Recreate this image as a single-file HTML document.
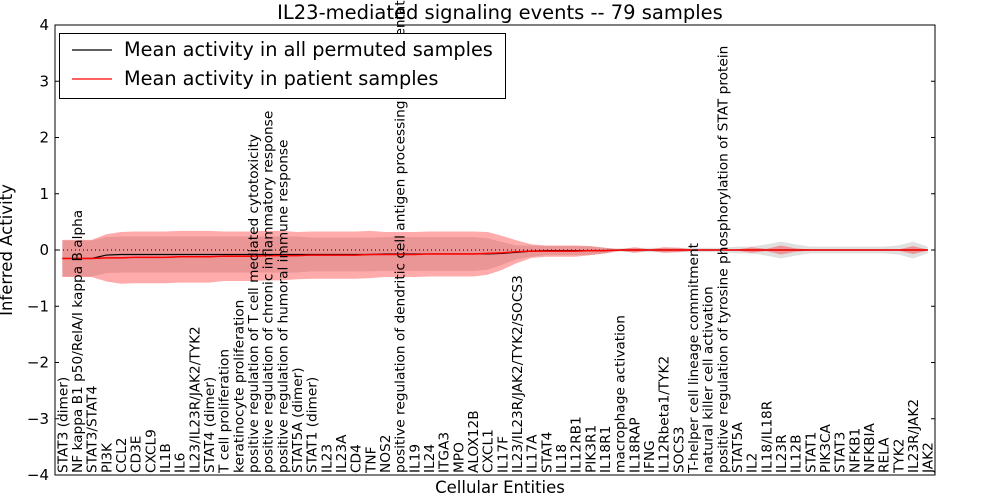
<!DOCTYPE html>
<html><head><meta charset="utf-8"><style>
body{margin:0;background:#fff;}
svg{display:block;font-family:"DejaVu Sans","Liberation Sans",sans-serif;}
</style></head><body>
<svg id="chart" width="1000" height="500" viewBox="0 0 1000 500">
<text x="500" y="19" text-anchor="middle" font-size="19.5">IL23-mediated signaling events -- 79 samples</text>
<g id="plot"></g>
<text x="500" y="493" text-anchor="middle" font-size="16.5">Cellular Entities</text>
<text transform="translate(12,250) rotate(-90)" text-anchor="middle" font-size="16.5">Inferred Activity</text>
</svg>
<script>
const categories=["STAT3 (dimer)","NF kappa B1 p50/RelA/I kappa B alpha","STAT3/STAT4","PI3K","CCL2","CD3E","CXCL9","IL1B","IL6","IL23/IL23R/JAK2/TYK2","STAT4 (dimer)","T cell proliferation","keratinocyte proliferation","positive regulation of T cell mediated cytotoxicity","positive regulation of chronic inflammatory response","positive regulation of humoral immune response","STAT5A (dimer)","STAT1 (dimer)","IL23","IL23A","CD4","TNF","NOS2","positive regulation of dendritic cell antigen processing and presentation","IL19","IL24","ITGA3","MPO","ALOX12B","CXCL1","IL17F","IL23/IL23R/JAK2/TYK2/SOCS3","IL17A","STAT4","IL18","IL12RB1","PIK3R1","IL18R1","macrophage activation","IL18RAP","IFNG","IL12Rbeta1/TYK2","SOCS3","T-helper cell lineage commitment","natural killer cell activation","positive regulation of tyrosine phosphorylation of STAT protein","STAT5A","IL2","IL18/IL18R","IL23R","IL12B","STAT1","PIK3CA","STAT3","NFKB1","NFKBIA","RELA","TYK2","IL23R/JAK2","JAK2"];
const permMean=[-0.15,-0.15,-0.15,-0.09,-0.08,-0.08,-0.08,-0.08,-0.08,-0.08,-0.08,-0.08,-0.08,-0.08,-0.08,-0.08,-0.08,-0.08,-0.08,-0.08,-0.08,-0.08,-0.07,-0.07,-0.07,-0.07,-0.07,-0.07,-0.07,-0.07,-0.06,-0.04,-0.02,-0.01,-0.01,-0.01,-0.01,-0.01,0,0,0,0,0,0,0,0,0,0,0,0,0,0,0,0,0,0,0,0,0,0];
const permStd=[0.32,0.32,0.32,0.32,0.32,0.32,0.32,0.32,0.32,0.32,0.32,0.32,0.32,0.32,0.32,0.32,0.32,0.3,0.3,0.3,0.3,0.3,0.3,0.3,0.3,0.3,0.3,0.3,0.3,0.28,0.2,0.12,0.1,0.08,0.08,0.08,0.08,0.05,0.03,0.04,0.04,0.04,0.04,0.04,0.04,0.04,0.06,0.06,0.1,0.15,0.1,0.06,0.06,0.06,0.06,0.06,0.06,0.08,0.15,0.06];
const patMean=[-0.15,-0.15,-0.15,-0.14,-0.14,-0.13,-0.13,-0.13,-0.12,-0.12,-0.12,-0.11,-0.11,-0.11,-0.1,-0.1,-0.1,-0.09,-0.09,-0.09,-0.09,-0.08,-0.08,-0.08,-0.08,-0.07,-0.07,-0.07,-0.07,-0.06,-0.05,-0.03,-0.02,-0.02,-0.02,-0.02,-0.01,-0.01,0,0,0,0,0,0,0,0,0,0,0,0,0,0,0,0,0,0,0,0,0,0];
const patStd=[0.33,0.33,0.33,0.42,0.46,0.46,0.46,0.46,0.46,0.46,0.46,0.44,0.44,0.44,0.44,0.44,0.42,0.42,0.42,0.42,0.42,0.42,0.4,0.4,0.4,0.4,0.4,0.4,0.4,0.38,0.3,0.2,0.12,0.1,0.1,0.1,0.08,0.05,0.01,0.05,0.01,0.05,0.04,0.01,0.01,0.01,0.01,0.05,0.02,0.08,0.03,0.01,0.01,0.01,0.01,0.01,0.01,0.01,0.07,0.01];
const yTicks=[-4,-3,-2,-1,0,1,2,3,4];
const L=55,R=935,T=25,B=475,NS="http://www.w3.org/2000/svg";
const xs=i=>L+(i+0.5)*(R-L)/categories.length;
const ys=v=>B-(v+4)/8*(B-T);
const g=document.getElementById('plot');
function mk(t,a){const e=document.createElementNS(NS,t);for(const k in a)e.setAttribute(k,a[k]);g.appendChild(e);return e;}
function band(m,s){let up=m.map((v,i)=>xs(i)+','+ys(v+s[i]));let dn=m.map((v,i)=>xs(i)+','+ys(v-s[i])).reverse();return up.concat(dn).join(' ');}
function line(m){return m.map((v,i)=>xs(i)+','+ys(v)).join(' ');}
let e;
e=mk('polygon',{points:band(permMean,permStd),fill:'#999','fill-opacity':0.3});


e=mk('polygon',{points:band(patMean,patStd),fill:'#f00','fill-opacity':0.33});


e=mk('line',{x1:L,x2:R,y1:ys(0),y2:ys(0),stroke:'#000','stroke-dasharray':'1,3'});


e=mk('polyline',{points:line(permMean),fill:'none',stroke:'#000','stroke-width':1.2});


e=mk('polyline',{points:line(patMean),fill:'none',stroke:'#f00','stroke-width':1.5});


e=mk('rect',{x:L,y:T,width:R-L,height:B-T,fill:'none',stroke:'#000'});


yTicks.forEach(v=>{
 let t=mk('line',{x1:L,x2:L+4,y1:ys(v),y2:ys(v),stroke:'#000'});
 
 
 t=mk('line',{x1:R-4,x2:R,y1:ys(v),y2:ys(v),stroke:'#000'});
 
 
 t=mk('text',{x:L-6,y:ys(v)+5,'text-anchor':'end','font-size':15});
 t.textContent=(v<0?'\u2212':'')+Math.abs(v);
 
 
});
categories.forEach((c,i)=>{
 let t=mk('text',{transform:'translate('+(xs(i)+5)+','+(B-2)+') rotate(-90)','font-size':13.7});
 t.textContent=c;
 
 
});
// legend
e=mk('rect',{x:59.5,y:33.5,width:446,height:65,fill:'#fff',stroke:'#000'});


e=mk('line',{x1:72,x2:112,y1:50,y2:50,stroke:'#000','stroke-width':1.2});


e=mk('text',{x:124,y:56,'font-size':19.3});e.textContent='Mean activity in all permuted samples';


e=mk('line',{x1:72,x2:112,y1:79,y2:79,stroke:'#f00','stroke-width':1.2});


e=mk('text',{x:124,y:85,'font-size':19.3});e.textContent='Mean activity in patient samples';


</script>
</body></html>
